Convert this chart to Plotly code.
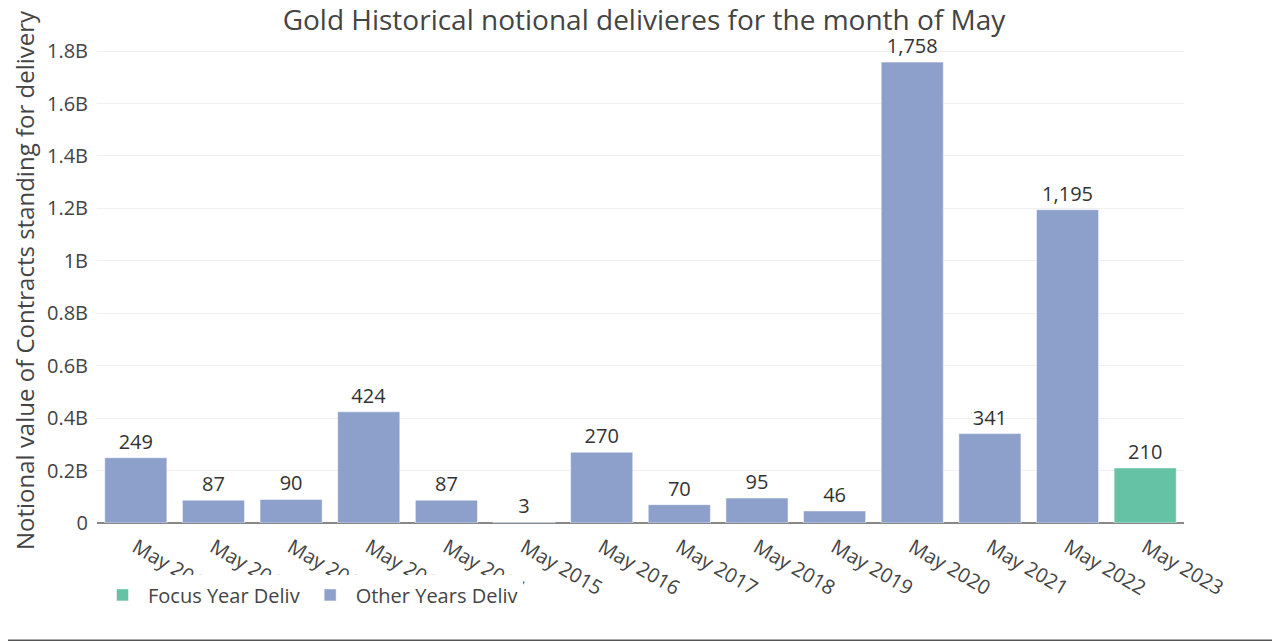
import plotly.graph_objects as go

# Notional deliveries for May, in millions of USD
years = ["May 2010", "May 2011", "May 2012", "May 2013", "May 2014", "May 2015", "May 2016",
         "May 2017", "May 2018", "May 2019", "May 2020", "May 2021", "May 2022", "May 2023"]
deliv_musd = [249, 87, 90, 424, 87, 3, 270, 70, 95, 46, 1758, 341, 1195, 210]
focus_year = "May 2023"

other_x = [y for y in years if y != focus_year]
other_v = [v for y, v in zip(years, deliv_musd) if y != focus_year]
focus_v = [v for y, v in zip(years, deliv_musd) if y == focus_year]

fig = go.Figure()
fig.add_trace(go.Bar(x=[focus_year], y=[v * 1e6 for v in focus_v],
                     text=[f"{v:,}" for v in focus_v], textposition="outside",
                     name="Focus Year Deliv", marker_color="#66c2a5"))
fig.add_trace(go.Bar(x=other_x, y=[v * 1e6 for v in other_v],
                     text=[f"{v:,}" for v in other_v], textposition="outside",
                     name="Other Years Deliv", marker_color="#8da0cb"))

fig.update_traces(textfont=dict(size=20, color="#333"), cliponaxis=False)

# the page body has an 8px margin, so the figure is a bit smaller than the window
fig.update_layout(
    template="plotly_white",
    width=1272, height=633,
    font=dict(family="Open Sans", size=18, color="#444"),
    title=dict(text="Gold Historical notional delivieres for the month of May",
               x=0.5, xanchor="center", y=0.996, yanchor="top",
               font=dict(size=28, color="#444")),
    barmode="relative",
    bargap=0.2,
    margin=dict(l=89, r=96, t=30, b=118),
    legend=dict(orientation="h", x=0.0, xanchor="left", y=-0.108, yanchor="top",
                font=dict(size=20), bgcolor="white", itemwidth=41),
    xaxis=dict(categoryorder="array", categoryarray=years, tickangle=30,
               tickfont=dict(size=20), showgrid=False, automargin=False,
               ticklabelstandoff=8),
    yaxis=dict(range=[0, 1.85e9],
               title=dict(text="Notional value of Contracts standing for delivery",
                          font=dict(size=24), standoff=18),
               tickfont=dict(size=20), gridcolor="#f0f0f0", ticklabelstandoff=8,
               zeroline=True, zerolinecolor="#888", zerolinewidth=2, automargin=False),
    shapes=[dict(type="line", xref="paper", yref="paper",
                 x0=-0.1, x1=1.1, y0=-0.2425, y1=-0.2425,
                 line=dict(color="#555", width=2))],
)

fig.write_html("out.html")
